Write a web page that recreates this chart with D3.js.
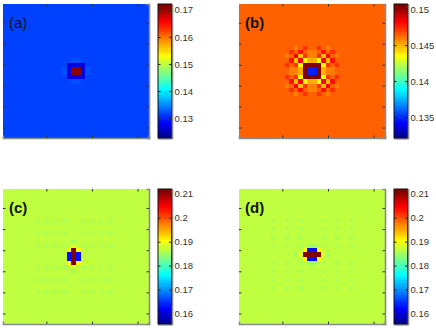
<!doctype html>
<html>
<head>
<meta charset="UTF-8">
<title>four panel maps</title>
<script src="https://d3js.org/d3.v7.min.js"></script>
<style>
  body { margin: 0; background: #fff; }
  * { font-family: "Liberation Sans", Arial, sans-serif; }
</style>
</head>
<body>
<script>
// grid is 32 x 32, cells are [row, col, value] (0-based)
var gridN = 32;

var climA = [0.1226, 0.1722];
var climB = [0.1321, 0.1507];
var climC = [0.1556, 0.2120];
var climD = [0.1556, 0.2120];

var ticksA = [0.13, 0.14, 0.15, 0.16, 0.17];
var ticksB = [0.135, 0.14, 0.145, 0.15];
var ticksC = [0.16, 0.17, 0.18, 0.19, 0.2, 0.21];
var ticksD = [0.16, 0.17, 0.18, 0.19, 0.2, 0.21];

var axisTicksX = [10, 20, 30];
var axisTicksY = [5, 10, 15, 20, 25, 30];

var bgA = 0.1316, bgB = 0.1465, bgC = 0.1870, bgD = 0.1870;

var cellsA = [
  [15,15,0.1710],[15,16,0.1710],[16,15,0.1710],[16,16,0.1710],
  [14,14,0.1269],[14,15,0.1269],[14,16,0.1269],[14,17,0.1269],
  [17,14,0.1269],[17,15,0.1269],[17,16,0.1269],[17,17,0.1269],
  [15,14,0.1269],[16,14,0.1269],[15,17,0.1269],[16,17,0.1269],
  [13,15,0.1323],[13,16,0.1323],[18,15,0.1323],[18,16,0.1323],
  [15,13,0.1323],[16,13,0.1323],[15,18,0.1323],[16,18,0.1323]
];

// panel (b) is symmetric round the central 2x2 block: [i, j, value], i = col step, j = row step
var quadB = [
  [0,0,0.1349],
  [1,0,0.1505],[0,1,0.1505],[1,1,0.1505],
  [2,0,0.1450],[0,2,0.1450],
  [2,1,0.1436],[1,2,0.1436],
  [2,2,0.1482],
  [3,0,0.1459],[0,3,0.1459],
  [3,1,0.1474],[1,3,0.1474],
  [3,2,0.1447],[2,3,0.1447],
  [3,3,0.1482],
  [4,0,0.1459],[0,4,0.1459],
  [4,2,0.1479],[2,4,0.1479],
  [4,4,0.1474],
  [5,1,0.1474],[1,5,0.1474],
  [5,3,0.1459],[3,5,0.1459]
];

// faint texture in (c) and (d)
var fadeColsC = [7, 9, 11, 13, 17, 19, 21, 23];
var fadeRowsC = [7, 10, 13, 18, 21, 24];
var fadeRowsD = [7, 9, 11, 13, 17, 19, 21, 23];
var fadeColsD = [7, 10, 13, 18, 21, 24];
var fadeValue = 0.1860;

var cellsC = [
  [12,15,0.1851],[19,15,0.1851],
  [13,15,0.1886],[18,15,0.1886],
  [14,14,0.1904],[14,16,0.1904],[17,14,0.1904],[17,16,0.1904],
  [15,14,0.1630],[16,14,0.1630],[15,16,0.1630],[16,16,0.1630],
  [14,15,0.2115],[15,15,0.2115],[16,15,0.2115],[17,15,0.2115]
];

var cellsD = [
  [15,12,0.1851],[15,19,0.1851],
  [13,15,0.1851],[13,16,0.1851],[17,15,0.1851],[17,16,0.1851],
  [15,13,0.1886],[15,18,0.1886],
  [14,14,0.1904],[14,17,0.1904],[16,14,0.1904],[16,17,0.1904],
  [14,15,0.1630],[14,16,0.1630],[16,15,0.1630],[16,16,0.1630],
  [15,14,0.2115],[15,15,0.2115],[15,16,0.2115],[15,17,0.2115]
];

// matlab jet(64)
function jet(k) {
  var u = function(j) { return (j < 1 || j > 47) ? 0 : j <= 16 ? j / 16 : j <= 31 ? 1 : (48 - j) / 16; };
  return d3.rgb(Math.round(u(k - 24) * 255), Math.round(u(k - 8) * 255), Math.round(u(k + 8) * 255)).toString();
}
function colorOf(v, clim) {
  var k = Math.floor((v - clim[0]) / (clim[1] - clim[0]) * 64) + 1;
  return jet(Math.max(1, Math.min(64, k)));
}

function makeGrid(bg, fadeRows, fadeCols, cells) {
  var g = [];
  d3.range(gridN).forEach(function(r) {
    d3.range(gridN).forEach(function(c) { g.push({r: r, c: c, v: bg}); });
  });
  var at = function(r, c) { return g[r * gridN + c]; };
  fadeRows.forEach(function(r) { fadeCols.forEach(function(c) { at(r, c).v = fadeValue; }); });
  cells.forEach(function(d) { at(d[0], d[1]).v = d[2]; });
  return g;
}

var cellsB = [];
quadB.forEach(function(q) {
  [15 - q[1], 16 + q[1]].forEach(function(r) {
    [15 - q[0], 16 + q[0]].forEach(function(c) { cellsB.push([r, c, q[2]]); });
  });
});

var panels = [
  {label: "(a)", bold: false, x: 3,   y: 4,   h: 134, clim: climA, ticks: ticksA, grid: makeGrid(bgA, [], [], cellsA)},
  {label: "(b)", bold: true,  x: 239, y: 4,   h: 134, clim: climB, ticks: ticksB, grid: makeGrid(bgB, [], [], cellsB)},
  {label: "(c)", bold: true,  x: 3,   y: 189, h: 135, clim: climC, ticks: ticksC, grid: makeGrid(bgC, fadeRowsC, fadeColsC, cellsC)},
  {label: "(d)", bold: true,  x: 239, y: 189, h: 135, clim: climD, ticks: ticksD, grid: makeGrid(bgD, fadeRowsD, fadeColsD, cellsD)}
];

var svg = d3.select("body").append("svg")
  .attr("width", 436)
  .attr("height", 330);

var plotW = 146, cbGap = 9, cbW = 13.5;

panels.forEach(function(p) {
  var g = svg.append("g").attr("transform", "translate(" + p.x + "," + p.y + ")");
  var xb = d3.scaleBand().domain(d3.range(gridN)).range([0, plotW]);
  var yb = d3.scaleBand().domain(d3.range(gridN)).range([0, p.h]);
  var xl = d3.scaleLinear().domain([0.5, gridN + 0.5]).range([0, plotW]);
  var yl = d3.scaleLinear().domain([0.5, gridN + 0.5]).range([0, p.h]);

  g.selectAll("rect.cell").data(p.grid).enter().append("rect")
    .attr("class", "cell")
    .attr("x", function(d) { return xb(d.c); })
    .attr("y", function(d) { return yb(d.r); })
    .attr("width", xb.bandwidth() + 0.5)
    .attr("height", yb.bandwidth() + 0.5)
    .attr("shape-rendering", "crispEdges")
    .attr("fill", function(d) { return colorOf(d.v, p.clim); });

  // inward ticks on all four sides
  var axes = [
    [d3.axisTop(xl).tickValues(axisTicksX), 0, 0],
    [d3.axisBottom(xl).tickValues(axisTicksX), 0, p.h],
    [d3.axisLeft(yl).tickValues(axisTicksY), 0, 0],
    [d3.axisRight(yl).tickValues(axisTicksY), plotW, 0]
  ];
  axes.forEach(function(a, i) {
    var ax = g.append("g").attr("transform", "translate(" + a[1] + "," + a[2] + ")")
      .call(a[0].tickSize(-2.5).tickFormat(""));
    ax.selectAll(".tick line").attr("stroke", "#333");
    ax.select(".domain").attr("stroke", i % 2 ? "#8a8a8a" : "none").attr("stroke-width", 1.6);
  });

  g.append("text")
    .attr("x", 6)
    .attr("y", 24)
    .attr("font-size", 15)
    .attr("font-weight", p.bold ? "bold" : "normal")
    .attr("fill", "#111")
    .text(p.label);

  // colorbar
  var cx = plotW + cbGap;
  var cb = g.append("g").attr("transform", "translate(" + cx + ",0)");
  var cs = d3.scaleLinear().domain(p.clim).range([p.h, 0]);
  var steps = d3.range(64);
  var bandH = p.h / 64;
  cb.selectAll("rect.band").data(steps).enter().append("rect")
    .attr("class", "band")
    .attr("x", 0)
    .attr("y", function(k) { return p.h - (k + 1) * bandH; })
    .attr("width", cbW)
    .attr("height", bandH + 0.5)
    .attr("shape-rendering", "crispEdges")
    .attr("fill", function(k) { return jet(k + 1); });

  cb.append("rect")
    .attr("width", cbW).attr("height", p.h)
    .attr("fill", "none").attr("stroke", "#111").attr("stroke-width", 1);
  cb.append("line")
    .attr("x1", cbW + 1).attr("x2", cbW + 1).attr("y1", 0).attr("y2", p.h + 1)
    .attr("stroke", "#8a8a8a").attr("stroke-width", 1.6);
  cb.append("line")
    .attr("x1", 0).attr("x2", cbW + 1).attr("y1", p.h + 1).attr("y2", p.h + 1)
    .attr("stroke", "#8a8a8a").attr("stroke-width", 1.2);

  var cbl = cb.append("g").call(d3.axisLeft(cs).tickValues(p.ticks).tickSize(-2.5).tickFormat(""));
  cbl.select(".domain").remove();
  cbl.selectAll(".tick line").attr("stroke", "#222");

  var cbr = cb.append("g").attr("transform", "translate(" + cbW + ",0)")
    .call(d3.axisRight(cs).tickValues(p.ticks).tickSize(-2.5).tickPadding(3)
      .tickFormat(function(v) { return String(v); }));
  cbr.select(".domain").remove();
  cbr.selectAll(".tick line").attr("stroke", "#222");
  cbr.selectAll(".tick text")
    .attr("font-size", 9.5)
    .attr("fill", "#333")
    .style("font-family", "'Liberation Sans', Arial, sans-serif");
});
</script>
</body>
</html>
